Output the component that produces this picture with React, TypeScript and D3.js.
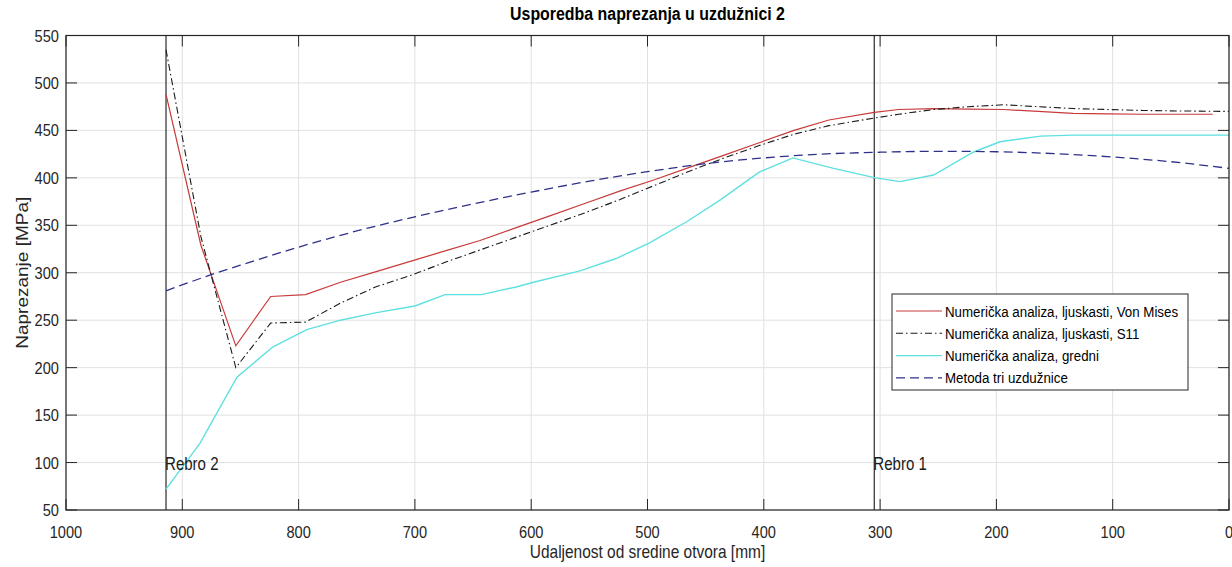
import React from "react";
import * as d3 from "d3";

const title = "Usporedba naprezanja u uzdužnici 2";
const xLabel = "Udaljenost od sredine otvora [mm]";
const yLabel = "Naprezanje [MPa]";
const xTicks = [1000, 900, 800, 700, 600, 500, 400, 300, 200, 100, 0];
const yTicks = [50, 100, 150, 200, 250, 300, 350, 400, 450, 500, 550];

const ribs = [
  { x: 914, label: "Rebro 2" },
  { x: 305, label: "Rebro 1" },
];

const vmX = [914, 884, 854, 824, 794, 764, 734, 704, 674, 644, 614, 584, 554, 524, 494, 464, 434, 404, 374, 344, 305, 284, 254, 224, 194, 164, 134, 104, 74, 44, 14];
const vmY = [488, 329, 223, 275, 277, 290, 301, 312, 323, 334, 347, 360, 373, 386, 398, 411, 424, 437, 450, 461, 469, 472, 473, 472.5, 472, 470, 468, 467.5, 467, 467, 467];

const s11X = [914, 884, 854, 824, 794, 764, 734, 704, 674, 644, 614, 584, 554, 524, 494, 464, 434, 404, 374, 344, 305, 284, 254, 224, 194, 164, 134, 104, 74, 44, 0];
const s11Y = [535, 338, 200, 247, 248, 268, 285, 297, 311, 324, 337, 350, 363, 377, 392, 407, 421, 434, 446, 455, 463, 467, 472, 475, 477, 475, 473, 472, 471, 470.5, 470];

const beamX = [914, 885, 853, 822, 793, 764, 733, 700, 674, 643, 613, 598, 558, 527, 499, 466, 437, 404, 375, 340, 304, 283, 254, 220, 197, 162, 134, 0];
const beamY = [72, 120, 190, 222, 240, 250, 258, 265, 277, 277, 285, 290, 302, 315, 331, 354, 377, 406, 421, 410, 400, 396, 403, 427, 438, 444, 445, 445];

const triX = [914, 875, 850, 800, 750, 700, 650, 600, 550, 500, 450, 400, 350, 300, 250, 200, 150, 100, 50, 0];
const triY = [281, 298, 308, 327, 344, 359, 372.5, 385, 396.5, 406.5, 415, 421, 425, 427, 428, 427.5, 425.5, 422, 417, 410];

const seriesNames = [
  "Numerička analiza, ljuskasti, Von Mises",
  "Numerička analiza, ljuskasti, S11",
  "Numerička analiza, gredni",
  "Metoda tri uzdužnice",
];

const FONT = "'Liberation Sans', Arial, Helvetica, sans-serif";
const SX = 0.86;

function T(props: { x: number; y: number; size: number; anchor?: string; bold?: boolean; rotate?: number; fill?: string; children: React.ReactNode }) {
  const { x, y, size, anchor = "start", bold, rotate = 0, fill = "#262626", children } = props;
  const sc = rotate ? `scale(1,${SX})` : `scale(${SX},1)`;
  return (
    <text
      transform={`translate(${x},${y}) rotate(${rotate}) ${sc}`}
      fontSize={size}
      fontFamily={FONT}
      fontWeight={bold ? "bold" : "normal"}
      textAnchor={anchor}
      fill={fill}
    >
      {children}
    </text>
  );
}

export default function App() {
  const W = 1232, H = 567;
  const L = 66, R = 1229, Tp = 35.5, B = 510;
  const x = d3.scaleLinear().domain([1000, 0]).range([L, R]);
  const y = d3.scaleLinear().domain([50, 550]).range([B, Tp]);

  const mk = (xs: number[], ys: number[]) =>
    d3.line<number>().x((_, i) => x(xs[i])).y((_, i) => y(ys[i]))(xs.map((_, i) => i)) || "";
  const mkSmooth = (xs: number[], ys: number[]) =>
    d3.line<number>().x((_, i) => x(xs[i])).y((_, i) => y(ys[i])).curve(d3.curveMonotoneX)(xs.map((_, i) => i)) || "";

  const styles = [
    { stroke: "#c83a3a", dash: "", w: 1.2 },
    { stroke: "#1a1a1a", dash: "7,3,1.5,3", w: 1.1 },
    { stroke: "#5fe0e0", dash: "", w: 1.4 },
    { stroke: "#30308a", dash: "9,5", w: 1.3 },
  ];
  const paths = [mk(vmX, vmY), mk(s11X, s11Y), mk(beamX, beamY), mkSmooth(triX, triY)];
  const tick = 11;
  const axisCol = "#262626";

  const lgX = 892, lgY = 294, lgW = 296, lgH = 96;

  return (
    <svg width={W} height={H} style={{ position: "absolute", left: 0, top: 0, background: "#fff" }}>
      <rect x={0} y={0} width={W} height={H} fill="#fff" />
      {xTicks.map((t) => (
        <line key={"gx" + t} x1={x(t)} x2={x(t)} y1={Tp} y2={B} stroke="#e1e1e1" strokeWidth={1} />
      ))}
      {yTicks.map((t) => (
        <line key={"gy" + t} x1={L} x2={R} y1={y(t)} y2={y(t)} stroke="#e1e1e1" strokeWidth={1} />
      ))}
      {ribs.map((r) => (
        <line key={r.label} x1={x(r.x)} x2={x(r.x)} y1={Tp} y2={B} stroke="#3a3a3a" strokeWidth={1.3} />
      ))}
      {paths.map((p, i) => (
        <path key={i} d={p} fill="none" stroke={styles[i].stroke} strokeWidth={styles[i].w} strokeDasharray={styles[i].dash} />
      ))}
      {ribs.map((r) => (
        <T key={"t" + r.label} x={x(r.x) - 1} y={470} size={17.5} fill="#1a1a1a">{r.label}</T>
      ))}
      <rect x={L} y={Tp} width={R - L} height={B - Tp} fill="none" stroke={axisCol} strokeWidth={1.2} />
      {xTicks.map((t) => (
        <g key={"xt" + t}>
          <line x1={x(t)} x2={x(t)} y1={B} y2={B - tick} stroke={axisCol} />
          <line x1={x(t)} x2={x(t)} y1={Tp} y2={Tp + tick} stroke={axisCol} />
          <T x={x(t)} y={537.5} size={17} anchor="middle">{t}</T>
        </g>
      ))}
      {yTicks.map((t) => (
        <g key={"yt" + t}>
          <line x1={L} x2={L + tick} y1={y(t)} y2={y(t)} stroke={axisCol} />
          <line x1={R} x2={R - tick} y1={y(t)} y2={y(t)} stroke={axisCol} />
          <T x={59} y={y(t) + 6} size={17} anchor="end">{t}</T>
        </g>
      ))}
      <T x={(L + R) / 2} y={20} size={18.5} anchor="middle" bold fill="#000">{title}</T>
      <T x={(L + R) / 2} y={558} size={18} anchor="middle">{xLabel}</T>
      <T x={28} y={(Tp + B) / 2} size={19} anchor="middle" rotate={-90}>{yLabel}</T>
      <rect x={lgX} y={lgY} width={lgW} height={lgH} fill="#fff" stroke="#262626" strokeWidth={1} />
      {seriesNames.map((n, i) => {
        const yy = lgY + 17 + i * 22.3;
        return (
          <g key={n}>
            <line x1={lgX + 4} x2={lgX + 50} y1={yy} y2={yy} stroke={styles[i].stroke} strokeWidth={styles[i].w} strokeDasharray={styles[i].dash} />
            <T x={lgX + 53} y={yy + 5.5} size={15.5} fill="#000">{n}</T>
          </g>
        );
      })}
    </svg>
  );
}
